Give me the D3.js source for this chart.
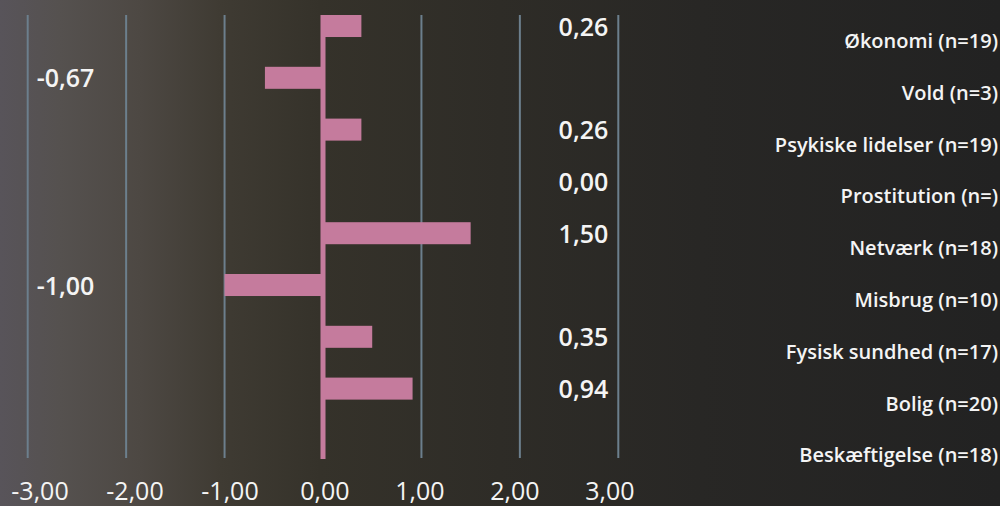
<!DOCTYPE html>
<html>
<head>
  <meta charset="utf-8">
  <title>Diverging bar chart</title>
  <script src="https://d3js.org/d3.v7.min.js"></script>
  <style>
    html, body { margin: 0; padding: 0; background: #2a2926; }
    text { font-family: "Open Sans", sans-serif; fill: #f4f4f4; }
  </style>
</head>
<body>
<div id="chart"></div>
<script>
  // Categories as written next to each row (top to bottom).
  const categories = ["Økonomi (n=19)", "Vold (n=3)", "Psykiske lidelser (n=19)", "Prostitution (n=)",
    "Netværk (n=18)", "Misbrug (n=10)", "Fysisk sundhed (n=17)", "Bolig (n=20)", "Beskæftigelse (n=18)"];

  // Bar lengths as drawn in the picture.
  const barValues = [0.39, -0.59, 0.39, 0, 1.5, -1.0, 0.5, 0.91, 0];

  // Value labels as printed (null = no label).
  const labelValues = [0.26, -0.67, 0.26, 0, 1.5, -1.0, 0.35, 0.94, null];

  const xTicks = [-3, -2, -1, 0, 1, 2, 3];

  const width = 1000, height = 506;
  const fmt = v => d3.format(".2f")(v).replace(".", ",").replace("−", "-");

  const svg = d3.select("#chart").append("svg")
    .attr("width", width)
    .attr("height", height);

  // Background
  const defs = svg.append("defs");
  const lg = defs.append("linearGradient").attr("id", "bg").attr("x1", 0).attr("x2", 1).attr("y1", 0).attr("y2", 0);
  [[0, "#58545a"], [0.06, "#55514f"], [0.14, "#4d4843"], [0.22, "#3f3b33"], [0.32, "#35322a"],
   [0.5, "#2e2c27"], [0.7, "#282725"], [1, "#222222"]]
    .forEach(([o, c]) => lg.append("stop").attr("offset", o).attr("stop-color", c));
  svg.append("rect").attr("width", width).attr("height", height).attr("fill", "url(#bg)");

  const x = d3.scaleLinear().domain([-3, 3]).range([27.7, 618.3]);
  // tick labels sit on a slightly narrower scale than the grid lines
  const xLabel = d3.scaleLinear().domain([-3, 3]).range([40, 610]);
  const y = d3.scaleBand()
    .domain(categories)
    .range([15, 15 + 51.8 * (categories.length - 0.575)])
    .paddingInner(0.575)
    .paddingOuter(0);

  const gridTop = 15, gridBottom = 458;

  // Grid lines
  svg.append("g").selectAll("line")
    .data(xTicks.filter(d => d !== 0))
    .join("line")
    .attr("x1", d => x(d)).attr("x2", d => x(d))
    .attr("y1", gridTop).attr("y2", gridBottom)
    .attr("stroke", "#6c7f8d")
    .attr("stroke-width", 2);

  // Bars
  svg.append("g").selectAll("rect")
    .data(barValues)
    .join("rect")
    .attr("x", d => x(Math.min(0, d)))
    .attr("y", (d, i) => y(categories[i]))
    .attr("width", d => Math.abs(x(d) - x(0)))
    .attr("height", y.bandwidth())
    .attr("fill", "#c57b9d");

  // Zero line
  svg.append("rect")
    .attr("x", x(0) - 2.5)
    .attr("y", gridTop)
    .attr("width", 5)
    .attr("height", gridBottom + 1 - gridTop)
    .attr("fill", "#c57b9d");

  // Value labels
  svg.append("g").selectAll("text")
    .data(labelValues.map((v, i) => ({v, c: categories[i]})).filter(d => d.v !== null))
    .join("text")
    .attr("x", d => d.v < 0 ? x(-3) + 9 : x(3) - 10)
    .attr("y", d => y(d.c) + y.bandwidth() / 2 + 9.5)
    .attr("text-anchor", d => d.v < 0 ? "start" : "end")
    .style("font-size", "25px")
    .style("font-weight", 600)
    .text(d => fmt(d.v));

  // Category labels
  svg.append("g").selectAll("text")
    .data(categories)
    .join("text")
    .attr("x", 998)
    .attr("y", d => y(d) + y.bandwidth() / 2 + 22)
    .attr("text-anchor", "end")
    .style("font-size", "20px")
    .style("font-weight", 600)
    .text(d => d);

  // X axis tick labels
  svg.append("g").selectAll("text")
    .data(xTicks)
    .join("text")
    .attr("x", d => xLabel(d))
    .attr("y", 500)
    .attr("text-anchor", "middle")
    .style("font-size", "25px")
    .style("font-weight", 400)
    .text(d => fmt(d));
</script>
</body>
</html>
